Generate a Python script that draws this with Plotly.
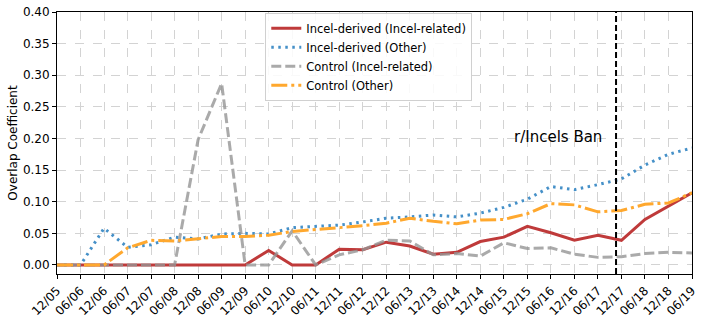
import plotly.graph_objects as go

# half-year periods
periods = ["12/05", "06/06", "12/06", "06/07", "12/07", "06/08", "12/08", "06/09",
           "12/09", "06/10", "12/10", "06/11", "12/11", "06/12", "12/12", "06/13",
           "12/13", "06/14", "12/14", "06/15", "12/15", "06/16", "12/16", "06/17",
           "12/17", "06/18", "12/18", "06/19"]

incel_related = [0, 0, 0, 0, 0, 0, 0, 0, 0, 0.023, 0, 0, 0.025, 0.024, 0.036, 0.030,
                 0.017, 0.020, 0.037, 0.044, 0.061, 0.051, 0.039, 0.047, 0.039, 0.072,
                 0.093, 0.114]
incel_other = [0, 0, 0.058, 0.028, 0.032, 0.044, 0.041, 0.049, 0.050, 0.049, 0.059,
               0.061, 0.063, 0.068, 0.074, 0.076, 0.079, 0.076, 0.082, 0.091, 0.104,
               0.124, 0.119, 0.127, 0.136, 0.158, 0.175, 0.185]
control_related = [0, 0, 0, 0, 0, 0, 0.198, 0.287, 0, 0, 0.054, 0, 0.016, 0.024,
                   0.039, 0.038, 0.016, 0.018, 0.014, 0.035, 0.026, 0.027, 0.017,
                   0.012, 0.013, 0.018, 0.020, 0.019]
control_other = [0, 0, 0, 0.027, 0.039, 0.038, 0.042, 0.045, 0.045, 0.047, 0.053,
                 0.056, 0.058, 0.062, 0.066, 0.074, 0.069, 0.065, 0.071, 0.072, 0.081,
                 0.097, 0.095, 0.084, 0.086, 0.096, 0.098, 0.114]

BAN_X = 23.77  # position of the r/Incels ban between 06/17 and 12/17

xs = list(range(len(periods)))

series = [
    ("Incel-derived (Incel-related)", incel_related, "#bf3a3a", "solid"),
    ("Incel-derived (Other)", incel_other, "#4590c8", "2.5px,4.5px"),
    ("Control (Incel-related)", control_related, "rgba(149,149,149,0.8)", "10px,4px"),
    ("Control (Other)", control_other, "#ffa82e", "16px,4px,3px,4px"),
]

fig = go.Figure()
for name, ys, color, dash in series:
    fig.add_trace(go.Scatter(x=xs, y=ys, mode="lines", name=name,
                             line=dict(color=color, dash=dash, width=3)))

fig.add_vline(x=BAN_X, line=dict(color="black", dash="6px,3px", width=2))
fig.add_annotation(x=BAN_X, y=0.203, text="r/Incels Ban", showarrow=False,
                   xanchor="right", xshift=-12, font=dict(size=15, color="black"))

axis_common = dict(showline=True, linecolor="black", linewidth=1, mirror=True,
                   ticks="outside", ticklen=4, tickcolor="black",
                   showgrid=True, gridcolor="#d3d3d3", griddash="dash", gridwidth=1,
                   zeroline=False, automargin=False,
                   tickfont=dict(size=12, color="black"))

fig.update_xaxes(range=[0, len(periods) - 1], tickvals=xs, ticktext=periods,
                 tickangle=-45, **axis_common)
fig.update_yaxes(range=[-0.0143, 0.40], dtick=0.05, tickformat=".2f",
                 title=dict(text="Overlap Coefficient", standoff=2,
                            font=dict(size=12, color="black")),
                 **axis_common)

fig.update_layout(
    width=706, height=320,
    margin=dict(l=57, r=14, t=12, b=46),
    paper_bgcolor="white", plot_bgcolor="white",
    font=dict(family="DejaVu Sans", color="black"),
    legend=dict(x=0.328, y=0.997, xanchor="left", yanchor="top",
                bgcolor="rgba(255,255,255,0.85)", bordercolor="#d0d0d0",
                borderwidth=1, font=dict(size=11.5), itemwidth=30,
                tracegroupgap=0),
    showlegend=True,
)

# drop the page's default body margin so the figure sits at the window's corner
fig.write_html("out.html", config={"displayModeBar": False},
               post_script="document.body.style.margin='0';")
